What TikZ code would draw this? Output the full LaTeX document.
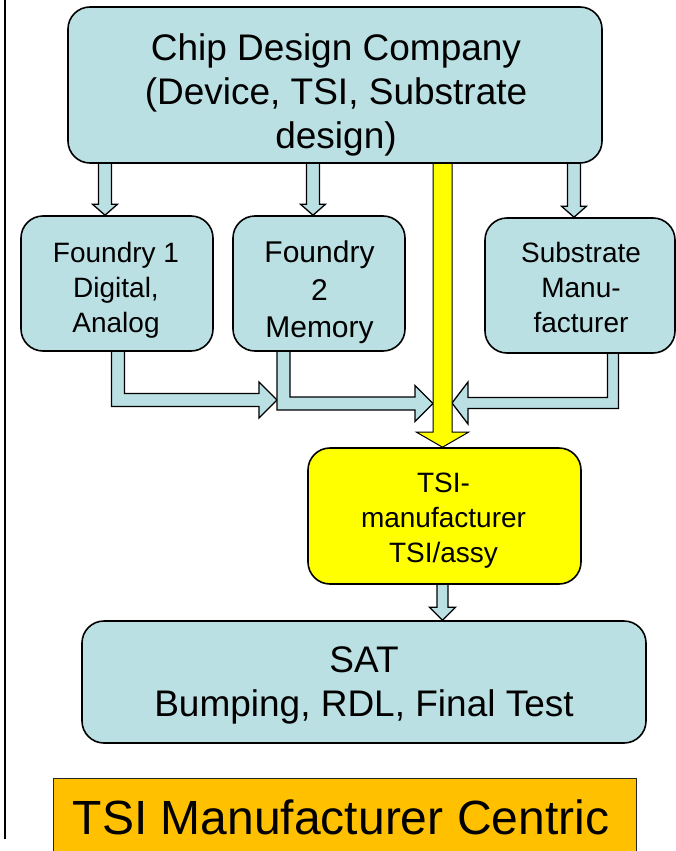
\documentclass[tikz,border=0pt]{standalone}
\usepackage{fontspec}
\setmainfont{Liberation Sans}
\usetikzlibrary{calc}
\pgfdeclarelayer{bg}
\pgfsetlayers{bg,main}
\definecolor{boxblue}{RGB}{187,224,227}
\definecolor{tsiyellow}{RGB}{255,255,0}
\definecolor{centricorange}{RGB}{255,192,0}
% vertical block arrow: #1 start, #2 tip, #3 shaft half width, #4 head half width, #5 head length, #6 style
\newcommand\vblock[6]{%
  \draw[#6] let \p1=(#1), \p2=(#2) in
    (\x1-#3,\y1) -- (\x1-#3,\y2+#5) -- (\x1-#4,\y2+#5) -- (\x1,\y2)
    -- (\x1+#4,\y2+#5) -- (\x1+#3,\y2+#5) -- (\x1+#3,\y1);}
% elbow block arrow: down from #1, then horizontal to tip #2
\newcommand\eblock[6]{%
  \draw[#6] let \p1=(#1), \p2=(#2), \n1={sign(\x2-\x1)} in
    ({\x1-(\n1)*#3},\y1) -- ({\x1-(\n1)*#3},\y2-#3) -- ({\x2-(\n1)*#5},\y2-#3)
    -- ({\x2-(\n1)*#5},\y2-#4) -- (\x2,\y2) -- ({\x2-(\n1)*#5},\y2+#4)
    -- ({\x2-(\n1)*#5},\y2+#3) -- ({\x1+(\n1)*#3},\y2+#3) -- ({\x1+(\n1)*#3},\y1);}
\begin{document}
\begin{tikzpicture}[x=1pt,y=-1pt,
  box/.style={draw=black, line width=1.6pt, fill=boxblue, rounded corners=22pt, inner sep=0pt},
  tsibox/.style={box, fill=tsiyellow},
  lbl/.style={align=center, inner sep=0pt, text=black},
  blkarrow/.style={draw=black, line width=1.3pt, fill=boxblue, line join=miter},
  yarrow/.style={draw=black, line width=1pt, fill=tsiyellow, line join=miter}]
\useasboundingbox (0,0) rectangle (676,851);

% left rule
\coordinate (ruletop) at (5,0);
\coordinate (rulebot) at (5,839);
\draw[line width=1.5pt] (ruletop) -- (rulebot);

% boxes
\node[box, minimum width=534pt, minimum height=156pt] (top) at (335,85) {};
\node[box, minimum width=192pt, minimum height=135pt] (f1) at (117,283.5) {};
\node[box, minimum width=172pt, minimum height=135pt] (f2) at (319,283.5) {};
\node[box, minimum width=190pt, minimum height=135pt] (sub) at (580,285.5) {};
\node[tsibox, minimum width=273pt, minimum height=136pt] (tsi) at (444.5,516) {};
\node[box, minimum width=564pt, minimum height=122pt] (sat) at (364,682) {};
\node[draw=black!85, line width=1pt, fill=centricorange, minimum width=583pt, minimum height=90pt, inner sep=0pt] (orng) at (344.5,823) {};

% labels
\node[lbl, font=\fontsize{37}{44}\selectfont] (topt) at (336,94.5) {Chip Design Company\\(Device, TSI, Substrate\\design)};
\node[lbl, font=\fontsize{28}{35}\selectfont] (f1t) at (116,290) {Foundry 1\\Digital,\\Analog};
\node[lbl, font=\fontsize{30}{37.5}\selectfont] (f2t) at (319.5,292.5) {Foundry\\2\\Memory};
\node[lbl, font=\fontsize{28}{35}\selectfont] (subt) at (581,287.5) {Substrate\\Manu-\\facturer};
\node[lbl, font=\fontsize{28}{35}\selectfont] (tsit) at (443.5,521) {TSI-\\manufacturer\\TSI/assy};
\node[lbl, font=\fontsize{37}{44}\selectfont] (satt) at (364,685) {SAT\\Bumping, RDL, Final Test};
\node[lbl, font=\fontsize{48}{56}\selectfont] (orngt) at (341,817.5) {TSI Manufacturer Centric};

% arrow tips that meet other arrows
\coordinate (t1) at (277,400);
\coordinate (t2) at (433,403.5);
\coordinate (t3) at (452,403);

\begin{pgfonlayer}{bg}
  \vblock{105,0 |- top.south}{105,0 |- f1.north}{6.5pt}{12.5pt}{11pt}{blkarrow}
  \vblock{313,0 |- top.south}{313,0 |- f2.north}{6.5pt}{12.5pt}{11pt}{blkarrow}
  \vblock{574,0 |- top.south}{574,0 |- sub.north}{6.5pt}{12.5pt}{11pt}{blkarrow}
  \eblock{118,0 |- f1.south}{t1}{6.5pt}{18pt}{18pt}{blkarrow}
  \eblock{283.5,0 |- f2.south}{t2}{6.5pt}{18pt}{18pt}{blkarrow}
  \eblock{613,0 |- sub.south}{t3}{5.5pt}{21pt}{16pt}{blkarrow}
  \vblock{442.5,0 |- top.south}{442.5,0 |- tsi.north}{9.5pt}{26pt}{15pt}{yarrow}
  \vblock{442.5,0 |- tsi.south}{442.5,0 |- sat.north}{5.5pt}{13pt}{13pt}{blkarrow}
\end{pgfonlayer}
\end{tikzpicture}
\end{document}
